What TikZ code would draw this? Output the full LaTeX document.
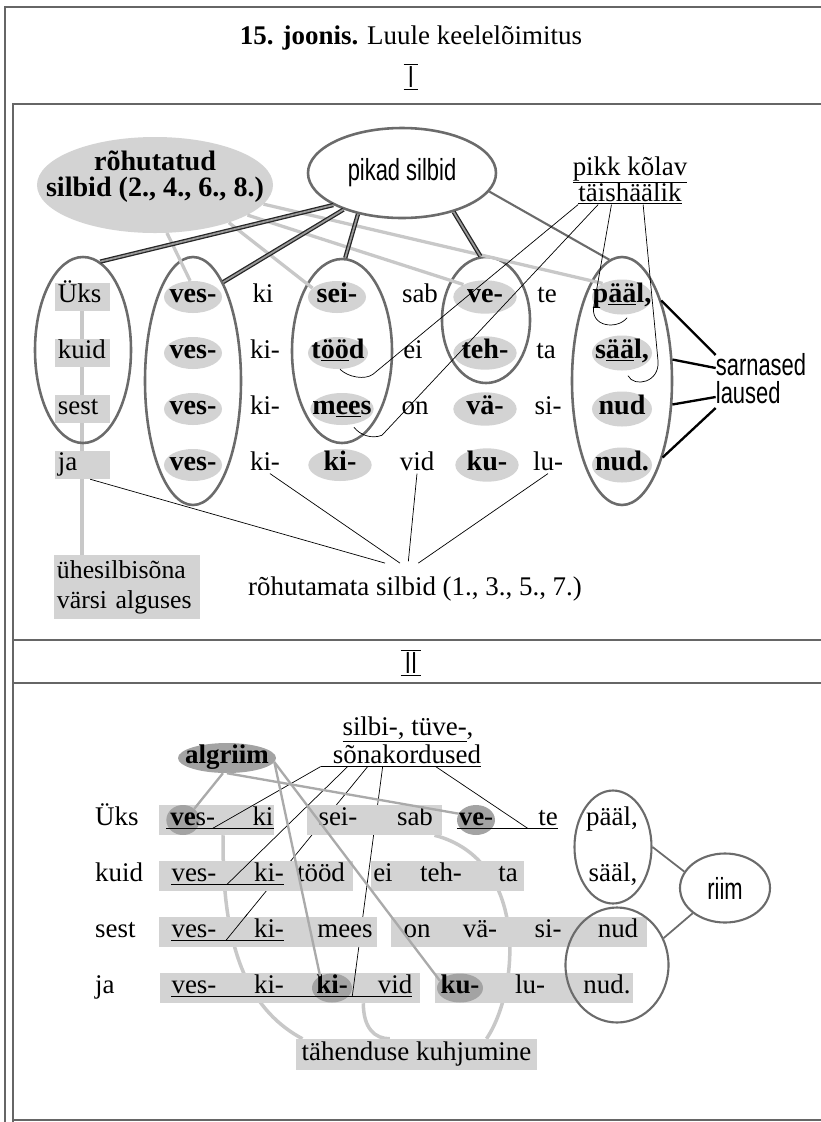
\documentclass[tikz,border=0pt]{standalone}
\usepackage{fontspec}
\setmainfont{Liberation Serif}
\newfontfamily\narrowsans[FakeStretch=0.72]{Liberation Sans}
\usetikzlibrary{shapes.geometric, backgrounds, calc}

\definecolor{palegray}{HTML}{D3D3D3}
\definecolor{shadegray}{HTML}{A3A3A3}
\definecolor{rimgray}{HTML}{6B6B6B}
\definecolor{linegray}{HTML}{AAAAAA}

\begin{document}
\begin{tikzpicture}[
    x=0.3mm, y=-0.3mm,
    every node/.style={font=\fontsize{23}{24}\selectfont, inner sep=0pt},
    word/.style={text height=4mm, text depth=1mm},
    hiword/.style={word, ellipse, fill=palegray, minimum width=17.4mm, minimum height=9.6mm,
        font=\fontsize{24}{24}\selectfont\bfseries, node contents={\makebox[0pt]{#1}}},
    darkword/.style={word, ellipse, fill=shadegray, minimum height=9mm,
        node contents={\makebox[0pt]{#1}}},
    namebox/.style={word, fill=palegray, text width=14.5mm, inner xsep=1mm, minimum height=8.4mm, align=left},
    rowbox/.style={fill=palegray, minimum height=9mm},
    grp/.style={ellipse, draw=rimgray, line width=2.2pt},
    sanstext/.style={font=\fontsize{26}{24}\selectfont\narrowsans, align=left},
    frame/.style={draw=black!60, line width=1pt},
    dbl/.style={draw=black!85, double=black!40, double distance=1.5pt, line width=1.1pt},
    paleline/.style={draw=palegray!95!black, line width=2.8pt},
    greyline/.style={draw=linegray, line width=2pt},
    rimline/.style={draw=rimgray, line width=1.5pt},
    fine/.style={draw=black, line width=0.6pt},
    heavy/.style={draw=black, line width=2pt},
    uline/.style={draw=black, line width=1.1pt},
]
\useasboundingbox (0,0) rectangle (821,1122);

% --- Frame ---
\draw[frame] (5,1122) -- (5,7) -- (821,7);
\draw[frame] (13,1122) -- (13,104) -- (821,104);
\draw[frame] (13,640) -- (821,640);
\draw[frame] (13,683) -- (821,683);
\draw[frame] (13,1120) -- (821,1120);

% --- Title ---
\node (title) at (411,38) {\textbf{15. joonis.} Luule keelelõimitus};
\node[sanstext, inner xsep=1.2mm, inner ysep=0.6mm] (part1) at (411,77) {I};
\draw[line width=1.2pt] (part1.north west) -- (part1.north east) (part1.south west) -- (part1.south east);

% ===================== Panel I =====================
% --- Headings ---
\node[ellipse, fill=palegray, minimum width=70.8mm, minimum height=28.8mm] (stress) at (155,185) {};
\node[align=center, font=\fontsize{24}{22.5}\selectfont\bfseries] (stresstext) at (155,177) {rõhutatud\\silbid (2., 4., 6., 8.)};
\node[grp, sanstext, minimum width=56.4mm, minimum height=27mm] (long) at (402,173) {pikad silbid};
\node[word] (vowel1) at (630,170) {\underline{pikk kõlav}};
\node[word] (vowel2) at (630,196) {\underline{täishäälik}};

% --- Rows ---
\node[namebox] (u1) at (82,297) {Üks};
\node[namebox] (u2) at (82,353) {kuid};
\node[namebox] (u3) at (82,409) {sest};
\node[namebox] (u4) at (82,465) {ja};

\node (w12) at (193,297) [hiword={ves-}];
\node (w22) at (193,353) [hiword={ves-}];
\node (w32) at (193,409) [hiword={ves-}];
\node (w42) at (193,465) [hiword={ves-}];

\node[word] (w13) at (263,297) {ki};
\node[word] (w23) at (265,353) {ki-};
\node[word] (w33) at (265,409) {ki-};
\node[word] (w43) at (265,465) {ki-};

\node (w14) at (337,297) [hiword={sei-}];
\node (w24) at (338,353) [hiword={t\underline{öö}d}, minimum width=18mm];
\node (w34) at (342,409) [hiword={m\underline{ee}s}, minimum width=19mm];
\node (w44) at (340,465) [hiword={ki-}, minimum width=19mm];

\node[word] (w15) at (420,297) {sab};
\node[word] (w25) at (413,353) {ei};
\node[word] (w35) at (415,409) {on};
\node[word] (w45) at (417,465) {vid};

\node (w16) at (485,297) [hiword={ve-}, minimum width=19mm, minimum height=10mm];
\node (w26) at (485,353) [hiword={teh-}, minimum width=19mm, minimum height=10mm];
\node (w36) at (485,409) [hiword={vä-}, minimum width=19mm, minimum height=10mm];
\node (w46) at (487,465) [hiword={ku-}, minimum width=19mm, minimum height=10mm];

\node[word] (w17) at (547,297) {te};
\node[word] (w27) at (546,353) {ta};
\node[word] (w37) at (548,409) {si-};
\node[word] (w47) at (548,465) {lu-};

\node (w18) at (622,297) [hiword={p\underline{ää}l,}, minimum width=18mm, minimum height=10.5mm];
\node (w28) at (622,353) [hiword={s\underline{ää}l,}, minimum width=18mm, minimum height=10.5mm];
\node (w38) at (622,409) [hiword={nud}, minimum width=18mm, minimum height=10.5mm];
\node (w48) at (622,465) [hiword={nud.}, minimum width=18mm, minimum height=10.5mm];

% --- Groups ---
\node[grp, minimum width=28.8mm, minimum height=55.8mm] (gA) at (83,350) {};
\node[grp, minimum width=28.8mm, minimum height=74.4mm] (gB) at (193,381) {};
\node[grp, minimum width=30mm, minimum height=55.2mm] (gC) at (342,351) {};
\node[grp, minimum width=26.4mm, minimum height=37.8mm] (gD) at (486,320) {};
\node[grp, minimum width=30mm, minimum height=74.4mm] (gE) at (622,381) {};

\node[sanstext] (alike) at (761,379) {sarnased\\laused};
\node[word] (unstress) at (415,590) {rõhutamata silbid (1., 3., 5., 7.)};
\node[fill=palegray, text width=42mm, inner xsep=0.75mm, inner ysep=1.5mm, align=left,
      font=\fontsize{22}{25.5}\selectfont] (single) at (127,587) {ühesilbisõna\\värsi alguses};

% --- Connectors ---
\begin{scope}[on background layer]
  \draw[paleline] (u1) -- (u1 |- single.north);
\end{scope}
\draw[paleline] (stress.284) -- (w12.100);
\draw[paleline] (stress.333) -- (w14.160);
\draw[paleline] (stress.342) -- (w16.150);
\draw[paleline] (stress.350) -- (w18.145);

\draw[dbl] (long.205) -- (gA.79);
\draw[dbl] (long.212) -- (gB.73);
\draw[dbl] (long.223) -- (gC.88);
\draw[dbl] (long.323) -- (gD.95);
\draw[rimline, line width=1.8pt] (long.348) -- (gE.96);

\draw[fine] (vowel2.south west) -- ($(w24.south)+(35,5)$) .. controls +(-8,6) and +(8,8) .. ($(w24.south)+(2,0)$);
\draw[fine] ([xshift=6mm]vowel2.south west) -- ($(w34.south)+(40,10)$) .. controls +(-10,4) and +(6,8) .. ($(w34.south)+(12,2)$);
\draw[fine] ([xshift=10mm]vowel2.south west) -- ($(w18.south)+(-28,-10)$) .. controls +(-5,23) and +(-9,12) .. ($(w18.south)+(5,3)$);
\draw[fine] ([xshift=19.5mm]vowel2.south west) -- ($(w28.south)+(36,-10)$) .. controls +(2,22) and +(6,12) .. ($(w28.south)+(6,5)$);

\draw[heavy] (gE.64) -- ([yshift=7.2mm]alike.west);
\draw[heavy] (gE.23) -- ([yshift=3.3mm]alike.west);
\draw[heavy] (gE.335) -- ([yshift=-5.4mm]alike.west);
\draw[heavy] (gE.298) -- ([yshift=-8.7mm]alike.west);

\draw[fine] (u4.300) -- ([xshift=-9mm,yshift=5.5mm]unstress.north);
\draw[fine] (w43.300) -- ([xshift=-4.5mm,yshift=5.5mm]unstress.north);
\draw[fine] (w45.south) -- ([xshift=-2mm,yshift=6mm]unstress.north);
\draw[fine] (w47.south) -- ([xshift=1mm,yshift=5.5mm]unstress.north);

% ===================== Panel II =====================
\node[sanstext, inner xsep=1.2mm, inner ysep=0.6mm] (part2) at (411,663) {II};
\draw[line width=1.2pt] (part2.north west) -- (part2.north east) (part2.south west) -- (part2.south east);

% --- Row boxes ---
\node[rowbox, minimum width=34.5mm] (b11) at (216.5,820) {};
\node[rowbox, minimum width=40.5mm] (b12) at (374.5,820) {};
\node[rowbox, minimum width=58.2mm] (b21) at (256,876) {};
\node[rowbox, minimum width=45.9mm] (b22) at (447.5,876) {};
\node[rowbox, minimum width=65.4mm] (b31) at (268,932) {};
\node[rowbox, minimum width=76.8mm] (b32) at (519,932) {};
\node[rowbox, minimum width=78mm] (b41) at (290,988) {};
\node[rowbox, minimum width=59.4mm] (b42) at (534,988) {};
\node[rowbox, minimum width=72.3mm, minimum height=9.3mm] (meaning) at (416.5,1054.5) {tähenduse kuhjumine};

% --- Words ---
\node[word, anchor=west] (p1) at (95,820) {Üks};
\node[word, anchor=west] (p2) at (95,876) {kuid};
\node[word, anchor=west] (p3) at (95,932) {sest};
\node[word, anchor=west] (p4) at (95,988) {ja};

\node (a11) at (183,820) [darkword={\textbf{ve}\rlap{s-}}, minimum width=10mm];
\node[word] (x11) at (263,820) {ki};
\node[word] (x13) at (338,820) {sei-};
\node[word] (x14) at (415,820) {sab};
\node (a16) at (476,820) [darkword={\textbf{ve}-}, minimum width=11.4mm];
\node[word] (x17) at (548,820) {te};
\node[word] (x18) at (612,820) {pääl,};

\node[word] (x21) at (194,876) {ves-};
\node[word] (x22) at (269,876) {ki-};
\node[word] (x23) at (321,876) {tööd};
\node[word] (x24) at (383,876) {ei};
\node[word] (x25) at (441,876) {teh-};
\node[word] (x26) at (508,876) {ta};
\node[word] (x27) at (613,876) {sääl,};

\node[word] (x31) at (194,932) {ves-};
\node[word] (x32) at (269,932) {ki-};
\node[word] (x33) at (345,932) {mees};
\node[word] (x34) at (417,932) {on};
\node[word] (x35) at (480,932) {vä-};
\node[word] (x36) at (548,932) {si-};
\node[word] (x37) at (618,932) {nud};

\node[word] (x41) at (194,988) {ves-};
\node[word] (x42) at (269,988) {ki-};
\node (a43) at (332,988) [darkword={\textbf{ki-}}, minimum width=12mm, minimum height=8.7mm];
\node[word] (x44) at (395,988) {vid};
\node (a45) at (460,988) [darkword={\textbf{ku-}}, minimum width=13.8mm, minimum height=8.7mm];
\node[word] (x46) at (530,988) {lu-};
\node[word] (x47) at (607,988) {nud.};

% --- Underlines ---
\draw[uline] (a11.west |- x11.south) -- (x11.south east);
\draw[uline] (a16.west |- x17.south) -- (x17.south east);
\draw[uline] (x21.south west) -- (x22.south east);
\draw[uline] (x31.south west) -- (x32.south east);
\draw[uline] (x41.south west) -- (x44.south east);

% --- Labels ---
\node (alliter) at (227,758) [darkword={\textbf{algriim}}, minimum width=29.4mm];
\node[word] (repeat1) at (408,730) {\underline{silbi-, tüve-},};
\node[word] (repeat2) at (407,758) {sõnakordused};
\coordinate (sku) at ([xshift=-3.6mm]repeat2.south west);
\draw[uline] (sku) -- (repeat2.south east);

\node[grp, line width=1.8pt, minimum width=23.1mm, minimum height=33.9mm] (rhyme1) at (613,847) {};
\node[grp, line width=1.8pt, minimum width=30.9mm, minimum height=34.5mm] (rhyme2) at (617,965) {};
\node[grp, line width=1.8pt, sanstext, minimum width=27mm, minimum height=20.7mm] (rim) at (725,888) {riim};
\draw[rimline] (rhyme1.east) -- (rim.158);
\draw[rimline] (rhyme2.30) -- (rim.218);

% --- Connectors ---
\coordinate (cStart) at ([xshift=14.1mm]sku);
\coordinate (cEnd) at ([xshift=-8.4mm]x32.south west);
\coordinate (dStart) at ([xshift=18.6mm]sku);
\coordinate (dEnd) at (a43.east |- x44.south);
\begin{scope}[on background layer]
  \draw[paleline, line width=3pt] ([xshift=2mm]b11.south) .. controls +(-2,124) and +(-48,-26) .. ([xshift=2mm]meaning.north west);
  \draw[paleline, line width=3pt] ([xshift=22mm]b41.south) .. controls +(0,25) and +(-15,0) .. ([xshift=-8mm]meaning.north);
  \draw[paleline, line width=3pt] ([xshift=18mm]b12.south) .. controls +(95,25) and +(33,-49) .. ([xshift=21mm]meaning.north);
  \draw[fine] (cStart) -- (cEnd);
  \draw[fine] (dStart) -- (dEnd);
\end{scope}
\draw[fine] ($(cStart)!0.85!(cEnd)$) -- (cEnd);
\draw[fine] ($(dStart)!0.88!(dEnd)$) -- (dEnd);
\draw[fine] (sku) -- ([xshift=-12mm]x11.south west);
\draw[fine] ([xshift=8.1mm]sku) -- ([xshift=-8.1mm]x22.south west);
\draw[fine] ([xshift=34.5mm]sku) -- ([xshift=-3mm]x17.south west);

\draw[greyline] (alliter.255) -- (a11.45);
\draw[greyline] (alliter.south) -- (a16.160);
\draw[greyline] (alliter.-5) -- (a43.135);
\draw[greyline] (alliter.-5) -- (a45.160);

\end{tikzpicture}
\end{document}
